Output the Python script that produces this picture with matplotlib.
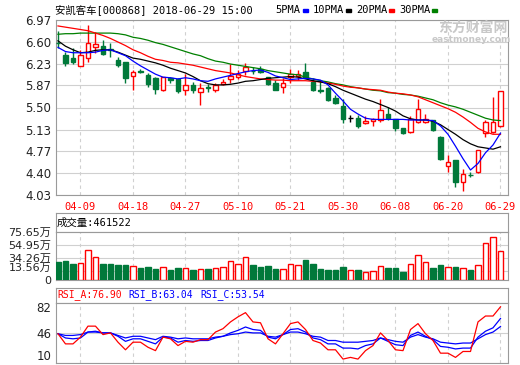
import numpy as np
import pandas as pd
import matplotlib
matplotlib.use("Agg")
import matplotlib.pyplot as plt
from matplotlib.patches import Rectangle

UP = "#ff0000"
DOWN = "#00793a"
EDGE = "#9a9a9a"
GRID = "#d0d0d0"
MONO_CJK = ["DejaVu Sans Mono", "Noto Sans CJK SC"]
SANS_CJK = ["DejaVu Sans", "Noto Sans CJK SC"]

# trading days shown on the chart (exchange holidays removed)
holidays = ["2018-04-05", "2018-04-06", "2018-04-30", "2018-05-01", "2018-06-18"]
days = pd.bdate_range("2018-04-02", "2018-06-29")
days = days[~days.isin(pd.to_datetime(holidays))]

opens = [6.59, 6.38, 6.34, 6.20, 6.33, 6.52, 6.53, 6.49, 6.30, 6.27,
         6.03, 6.11, 6.05, 5.99, 5.80, 5.99, 5.98, 5.79, 5.88, 5.76,
         5.84, 5.79, 5.90, 5.98, 6.01, 6.12, 6.12, 6.15, 6.01, 5.91,
         5.84, 6.02, 6.03, 6.09, 5.93, 5.79, 5.83, 5.66, 5.52, 5.32,
         5.33, 5.24, 5.27, 5.29, 5.39, 5.30, 5.15, 5.09, 5.26, 5.26,
         5.29, 5.00, 4.51, 4.61, 4.25, 4.37, 4.42, 5.08, 5.09, 5.19]
highs = [6.79, 6.44, 6.50, 6.47, 6.89, 6.77, 6.63, 6.58, 6.35, 6.27,
         6.13, 6.14, 6.08, 6.02, 6.02, 6.01, 5.99, 6.06, 5.93, 5.91,
         5.90, 5.91, 5.98, 6.23, 6.13, 6.24, 6.18, 6.19, 6.02, 5.96,
         5.99, 6.14, 6.13, 6.24, 5.99, 5.95, 5.85, 5.71, 5.64, 5.37,
         5.37, 5.35, 5.32, 5.64, 5.51, 5.30, 5.15, 5.36, 5.64, 5.39,
         5.29, 5.02, 4.70, 4.61, 4.46, 4.42, 4.79, 5.29, 5.68, 5.78]
lows = [6.50, 6.20, 6.23, 6.19, 6.27, 6.42, 6.38, 6.35, 6.18, 5.92,
        5.79, 6.08, 5.85, 5.73, 5.78, 5.92, 5.74, 5.71, 5.74, 5.55,
        5.76, 5.76, 5.87, 5.91, 5.98, 6.05, 6.07, 6.08, 5.88, 5.79,
        5.75, 5.92, 5.96, 5.99, 5.77, 5.75, 5.61, 5.56, 5.24, 5.26,
        5.15, 5.23, 5.19, 5.26, 5.29, 5.11, 5.05, 5.08, 5.24, 5.24,
        5.11, 4.61, 4.42, 4.17, 4.10, 4.33, 4.40, 5.01, 5.08, 5.18]
closes = [6.58, 6.25, 6.26, 6.38, 6.58, 6.56, 6.40, 6.47, 6.21, 5.99,
          6.09, 6.10, 5.90, 5.81, 6.01, 5.96, 5.78, 5.88, 5.79, 5.83,
          5.83, 5.88, 5.93, 6.03, 6.07, 6.18, 6.11, 6.10, 5.90, 5.80,
          5.91, 6.06, 6.07, 6.02, 5.79, 5.77, 5.63, 5.58, 5.30, 5.32,
          5.19, 5.27, 5.30, 5.46, 5.32, 5.15, 5.07, 5.31, 5.47, 5.30,
          5.12, 4.63, 4.59, 4.25, 4.38, 4.36, 4.79, 5.26, 5.26, 5.78]

ma5 = [6.51, 6.44, 6.42, 6.42, 6.42, 6.43, 6.46, 6.47, 6.42, 6.37,
       6.28, 6.20, 6.13, 6.06, 6.01, 6.00, 5.98, 6.00, 5.98, 5.95,
       5.94, 5.98, 6.01, 6.04, 6.07, 6.10, 6.12, 6.13, 6.09, 6.03,
       6.00, 5.97, 5.98, 5.99, 5.98, 5.96, 5.88, 5.74, 5.61, 5.47,
       5.39, 5.32, 5.30, 5.30, 5.30, 5.30, 5.30, 5.29, 5.29, 5.29,
       5.28, 5.19, 5.05, 4.85, 4.64, 4.45, 4.56, 4.74, 4.87, 5.07]
ma10 = [6.62, 6.53, 6.47, 6.42, 6.43, 6.46, 6.47, 6.47, 6.43, 6.38,
        6.33, 6.31, 6.28, 6.25, 6.21, 6.16, 6.12, 6.08, 6.02, 5.95,
        5.90, 5.88, 5.88, 5.89, 5.91, 5.94, 5.95, 5.97, 5.99, 6.00,
        6.01, 6.02, 6.01, 5.98, 5.95, 5.93, 5.90, 5.85, 5.79, 5.74,
        5.69, 5.64, 5.60, 5.55, 5.50, 5.44, 5.36, 5.31, 5.29, 5.29,
        5.27, 5.21, 5.13, 5.05, 4.96, 4.89, 4.84, 4.82, 4.80, 4.84]
ma20 = [6.87, 6.85, 6.83, 6.81, 6.79, 6.75, 6.71, 6.66, 6.60, 6.54,
        6.47, 6.42, 6.36, 6.31, 6.29, 6.26, 6.25, 6.23, 6.21, 6.18,
        6.15, 6.12, 6.10, 6.08, 6.05, 6.02, 6.00, 5.98, 5.97, 5.96,
        5.96, 5.95, 5.95, 5.95, 5.94, 5.93, 5.91, 5.89, 5.86, 5.84,
        5.83, 5.81, 5.80, 5.79, 5.76, 5.74, 5.73, 5.71, 5.68, 5.63,
        5.58, 5.53, 5.48, 5.42, 5.34, 5.25, 5.15, 5.09, 5.05, 5.05]
ma30 = [6.73, 6.74, 6.74, 6.75, 6.75, 6.75, 6.75, 6.75, 6.74, 6.72,
        6.68, 6.66, 6.63, 6.59, 6.56, 6.52, 6.48, 6.44, 6.40, 6.37,
        6.32, 6.28, 6.26, 6.23, 6.21, 6.19, 6.17, 6.15, 6.12, 6.10,
        6.08, 6.06, 6.05, 6.01, 5.98, 5.95, 5.93, 5.90, 5.88, 5.85,
        5.83, 5.81, 5.79, 5.78, 5.75, 5.74, 5.72, 5.71, 5.69, 5.66,
        5.63, 5.58, 5.54, 5.51, 5.47, 5.42, 5.37, 5.32, 5.29, 5.28]

# volume in units of 10k shares (万)
volume = [29.0, 30.6, 25.4, 27.0, 47.6, 36.0, 25.4, 25.4, 23.8, 23.8,
          21.7, 19.0, 20.6, 17.5, 20.1, 16.4, 19.0, 18.5, 15.9, 17.0,
          17.5, 18.5, 20.1, 30.2, 25.4, 36.0, 23.8, 20.1, 22.2, 17.5,
          17.5, 24.9, 23.3, 31.7, 25.4, 17.5, 15.9, 15.9, 20.1, 15.9,
          15.9, 12.2, 14.3, 21.7, 18.5, 18.5, 12.7, 24.9, 39.2, 28.6,
          18.5, 23.8, 20.1, 20.1, 18.5, 15.9, 23.3, 58.3, 67.8, 46.1522]

rsi_a = [45, 33, 33, 41, 54, 54, 44, 46, 35, 26,
         35, 35, 29, 25, 41, 39, 31, 36, 35, 38,
         38, 47, 51, 59, 65, 70, 59, 58, 39, 33,
         45, 57, 59, 50, 37, 34, 26, 26, 15, 17,
         15, 25, 31, 46, 37, 26, 25, 50, 57, 45,
         37, 22, 22, 17, 24, 24, 59, 66, 66, 76.90]
rsi_b = [45, 40, 39, 40, 47, 48, 46, 46, 42, 36,
         39, 39, 36, 33, 41, 40, 35, 37, 36, 37,
         37, 40, 42, 46, 49, 53, 50, 49, 41, 39,
         44, 50, 51, 47, 40, 38, 33, 33, 28, 28,
         27, 31, 33, 40, 36, 32, 31, 43, 47, 42,
         38, 30, 29, 27, 28, 28, 41, 48, 52, 63.04]
rsi_c = [45, 43, 43, 44, 47, 47, 46, 46, 43, 40,
         42, 42, 40, 38, 42, 41, 39, 40, 39, 39,
         39, 41, 42, 44, 45, 47, 46, 46, 42, 41,
         44, 47, 47, 45, 42, 41, 37, 37, 35, 35,
         35, 36, 37, 40, 38, 36, 35, 41, 44, 41,
         39, 35, 34, 33, 34, 34, 39, 44, 47, 53.54]

price_ticks = [4.03, 4.40, 4.77, 5.13, 5.50, 5.87, 6.23, 6.60, 6.97]
vol_ticks = [0, 13.56, 34.26, 54.95, 75.65]
rsi_ticks = [10, 46, 82]

opens, highs, lows, closes = map(np.array, (opens, highs, lows, closes))
x = np.arange(len(closes))
label_idx = list(range(3, len(closes), 7))

W, H = 520, 365


def box(l, t, r, b):
    return [l / W, 1 - b / H, (r - l) / W, (b - t) / H]


def frame(a):
    for s in a.spines.values():
        s.set_color(EDGE)
        s.set_linewidth(0.8)
    a.set_xlim(-0.33, 60.0)
    a.tick_params(length=0, labelsize=8.5, colors="#222222", pad=3)
    a.set_xticks(label_idx)
    a.grid(axis="x", color=GRID, linestyle=(0, (3, 3)), linewidth=0.8)
    a.grid(axis="y", color=GRID, linestyle="-", linewidth=0.8)
    a.set_axisbelow(True)


fig = plt.figure(figsize=(5.2, 3.65), dpi=100)

# ---- price panel ----
ax = fig.add_axes(box(55.5, 20, 508, 195))
frame(ax)
colors = np.where(closes > opens, UP, np.where(closes < opens, DOWN, "black"))
faces = ["white" if c == UP else c for c in colors]
ax.vlines(x, lows, highs, colors=colors, lw=1, zorder=2)
ax.bar(x, np.maximum(np.abs(closes - opens), 0.004), bottom=np.minimum(opens, closes),
       width=0.66, color=faces, edgecolor=colors, linewidth=1, zorder=3)
ax.plot(x, ma30, color="#008000", lw=0.9, zorder=4)
ax.plot(x, ma20, color="#ff0000", lw=0.9, zorder=4)
ax.plot(x, ma10, color="black", lw=0.9, zorder=4)
ax.plot(x, ma5, color="#0000ff", lw=0.9, zorder=4)
ax.set_ylim(4.03, 6.97)
ax.set_yticks(price_ticks, labels=[f"{v:.2f}" for v in price_ticks])
ax.set_xticks(label_idx, labels=[days[i].strftime("%m-%d") for i in label_idx])
ax.tick_params(axis="x", labelcolor=UP, labelsize=7.5, pad=5)
for lab in ax.get_xticklabels():
    lab.set_family("DejaVu Sans Mono")

# ---- volume header + panel ----
ax_vh = fig.add_axes(box(55.5, 213, 508, 232))
for s in ax_vh.spines.values():
    s.set_color(EDGE)
    s.set_linewidth(0.8)
ax_vh.set_xticks([])
ax_vh.set_yticks([])
fig.text(57 / W, 1 - 222.5 / H, f"成交量:{volume[-1] * 10000:.0f}", family=MONO_CJK,
         fontsize=7.5, va="center", color="black")

ax_v = fig.add_axes(box(55.5, 232, 508, 280))
frame(ax_v)
up_day = closes >= opens
ax_v.bar(x, volume, width=0.78, color=np.where(up_day, "white", DOWN),
         edgecolor=np.where(up_day, UP, DOWN), linewidth=1, zorder=3)
ax_v.set_ylim(0, 75.65)
ax_v.set_yticks(vol_ticks, labels=["0"] + [f"{v:.2f}万" for v in vol_ticks[1:]])
ax_v.tick_params(axis="y", labelsize=8)
ax_v.set_xticklabels([])
vl = ax_v.get_yticklabels()
for lab in vl:
    lab.set_family(SANS_CJK)
vl[1].set_va("baseline")

# ---- RSI header + panel ----
ax_rh = fig.add_axes(box(55.5, 287.5, 508, 302.5))
for s in ax_rh.spines.values():
    s.set_color(EDGE)
    s.set_linewidth(0.8)
ax_rh.set_xticks([])
ax_rh.set_yticks([])
fig.text(57 / W, 1 - 295 / H, f"RSI_A:{rsi_a[-1]:.2f}", family="DejaVu Sans Mono",
         fontsize=7, va="center", color=UP)
fig.text(128 / W, 1 - 295 / H, f"RSI_B:{rsi_b[-1]:.2f}", family="DejaVu Sans Mono",
         fontsize=7, va="center", color="#0000ff")
fig.text(200 / W, 1 - 295 / H, f"RSI_C:{rsi_c[-1]:.2f}", family="DejaVu Sans Mono",
         fontsize=7, va="center", color="#0000ff")

ax_r = fig.add_axes(box(55.5, 302.5, 508, 363.3))
frame(ax_r)
ax_r.plot(x, rsi_c, color="#0000ff", lw=0.9, zorder=3)
ax_r.plot(x, rsi_b, color="#0000ff", lw=0.9, zorder=3)
ax_r.plot(x, rsi_a, color="#ff0000", lw=0.9, zorder=4)
ax_r.set_ylim(10, 82)
ax_r.set_yticks(rsi_ticks, labels=[str(v) for v in rsi_ticks])
ax_r.set_xticklabels([])
rl = ax_r.get_yticklabels()
rl[0].set_va("bottom")
rl[-1].set_va("top")

# ---- title, legend, watermark ----
fig.text(55 / W, 1 - 10 / H, "安凯客车[000868] 2018-06-29 15:00", family=MONO_CJK,
         fontsize=7.5, va="center", color="black")
legend = [("5PMA", 275, 302.5, "#0000ff"), ("10PMA", 313, 346, "black"),
          ("20PMA", 356, 388.5, "#ff0000"), ("30PMA", 399, 431.5, "#008000")]
for name, tx, sx, col in legend:
    fig.text(tx / W, 1 - 10 / H, name, family="DejaVu Sans Mono", fontsize=7.5,
             va="center", color="black")
    fig.add_artist(Rectangle((sx / W, 1 - 12 / H), 5 / W, 3 / H, color=col,
                             transform=fig.transFigure))
fig.text(473 / W, 1 - 28 / H, "东方财富网", family="Noto Sans CJK SC", fontsize=10,
         fontweight="bold", color="#c8c8c8", ha="center", va="center")
fig.text(471 / W, 1 - 40 / H, "eastmoney.com", fontsize=6.5, fontweight="bold",
         color="#c8c8c8", ha="center", va="center")

fig.savefig("out.png", dpi=100)
